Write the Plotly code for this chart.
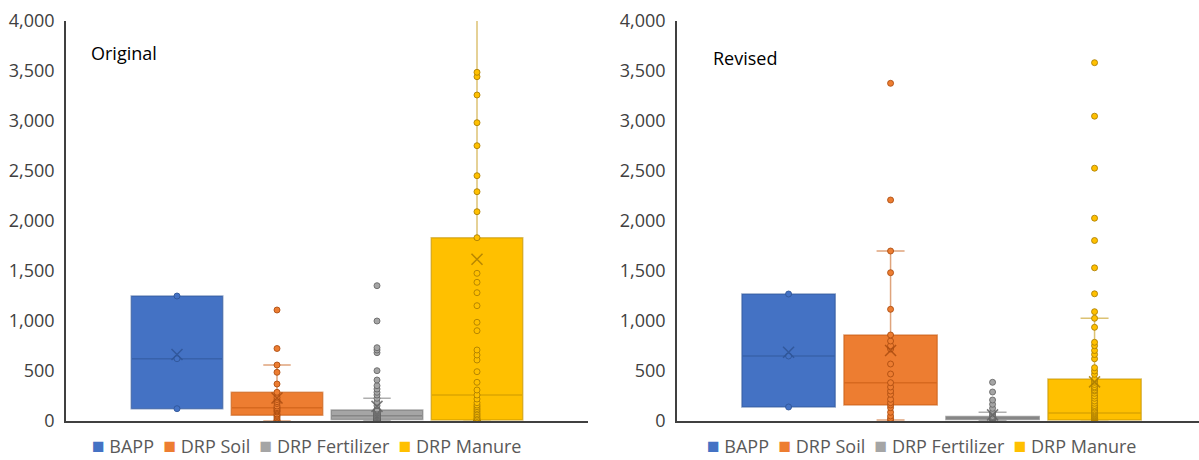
import numpy as np
import plotly.graph_objects as go
from plotly.subplots import make_subplots

# Series names (one box each, in drawing order)
series = ["BAPP", "DRP Soil", "DRP Fertilizer", "DRP Manure"]

# ---- Original estimates ----
bapp_orig = [123, 623, 1250]
soil_orig = [0, 5, 15, 30, 45, 57, 70, 90, 100, 110, 122, 133, 150, 175, 193,
             215, 237, 287, 370, 487, 560, 725, 1110]
fert_orig = [0, 0, 1, 2, 3, 4, 5, 6, 7, 8,
             9, 10, 11, 12, 13, 15, 17, 19, 21, 23,
             25, 27, 29, 31, 33, 35, 37, 40, 43, 46,
             49, 52, 55, 58, 61, 64, 67, 70, 73, 76,
             80, 84, 88, 92, 96, 100, 105, 110,
             120, 153, 187, 227, 260, 287, 320, 353, 410, 503, 683, 710, 733, 1000, 1353]
manure_orig = [0, 0, 0, 0, 0, 0, 0, 0, 0, 0, 0, 5, 10,
               20, 30, 45, 60, 75, 93, 110, 125, 143, 160, 183, 220,
               260,
               310, 387, 493, 610, 660, 710, 903, 987, 1153, 1283, 1387, 1477,
               1833,
               2093, 2293, 2453, 2753, 2983, 3260, 3443, 3487,
               4450, 8000, 14000, 19500]

# ---- Revised estimates ----
bapp_rev = [140, 650, 1270]
soil_rev = [10, 25, 50, 87, 133, 160, 183, 217, 267, 300, 340, 383,
            470, 570, 720, 753, 800, 860, 1117, 1483, 1700, 2210, 3377]
fert_rev = [0, 2, 4, 6, 8, 10, 12, 15, 17, 19, 21, 23, 25, 27, 29, 30,
            32, 34, 36, 38, 40, 42, 44, 46, 70, 88, 127, 167, 210, 290, 387]
manure_rev = [0, 0, 0, 0, 0, 0, 0, 0, 0, 0, 0, 0, 1, 2, 3, 4, 5, 7,
              10,
              12, 14, 16, 18, 20, 22, 25, 28, 31, 34, 37, 40, 44, 48, 53, 60, 66, 73,
              80,
              90, 100, 110, 127, 140, 155, 177, 200, 227, 250, 277, 300, 310, 330,
              343, 365, 387, 400,
              420,
              467, 500, 533, 622, 665, 705, 753, 787, 937, 1027, 1093, 1272, 1532,
              1805, 2028, 2528, 3048, 3583]

y_ticks = [0, 500, 1000, 1500, 2000, 2500, 3000, 3500, 4000]

panels = [
    ("Original", [bapp_orig, soil_orig, fert_orig, manure_orig]),
    ("Revised", [bapp_rev, soil_rev, fert_rev, manure_rev]),
]

fills = ["#4472C4", "#ED7D31", "#A5A5A5", "#FFC000"]
edges = ["rgba(47,85,151,0.55)", "rgba(197,90,17,0.55)",
         "rgba(110,110,110,0.55)", "rgba(191,144,0,0.55)"]
darks = ["rgba(47,85,151,0.85)", "rgba(170,75,15,0.85)",
         "rgba(100,100,100,0.85)", "rgba(170,125,0,0.85)"]

fig = make_subplots(rows=1, cols=2, horizontal_spacing=0.0)

for col, (title, groups) in enumerate(panels, start=1):
    for name, vals, fc, ec, dc in zip(series, groups, fills, edges, darks):
        fig.add_trace(go.Box(
            x=[name] * len(vals), y=vals, name=name,
            quartilemethod="exclusive",
            boxpoints="all", jitter=0, pointpos=0,
            width=0.915,
            fillcolor=fc,
            line=dict(color=ec, width=1.5),
            whiskerwidth=0.3,
            marker=dict(color=fc, size=6, line=dict(color=dc, width=1)),
            showlegend=False, hoverinfo="y",
        ), row=1, col=col)
        # mean marker
        fig.add_trace(go.Scatter(
            x=[name], y=[float(np.mean(vals))], mode="markers",
            marker=dict(symbol="x-thin-open", size=11,
                        line=dict(color=dc, width=1.5), color=dc),
            showlegend=False, hoverinfo="y",
        ), row=1, col=col)

W, H = 1199, 460
top, bottom = 21, 421
fig.update_layout(
    width=W, height=H,
    margin=dict(l=0, r=0, t=top, b=H - bottom),
    paper_bgcolor="white", plot_bgcolor="white",
    font=dict(family="Open Sans", size=18, color="#404040"),
    xaxis=dict(domain=[66 / W, 588 / W], range=[-1.11, 4.11]),
    xaxis2=dict(domain=[677 / W, 1.0], range=[-1.094, 4.024]),
)

axis_common = dict(showgrid=False, zeroline=False, showline=True,
                   linecolor="#404040", linewidth=1.5)
fig.update_xaxes(showticklabels=False, ticks="", automargin=False,
                 categoryorder="array", categoryarray=series, **axis_common)
fig.update_yaxes(range=[0, 4000], tickvals=y_ticks, tickformat=",d",
                 ticks="", ticklabelstandoff=6, automargin=False,
                 tickfont=dict(family="Open Sans", size=18, color="#404040"),
                 **axis_common)

# Panel titles
fig.add_annotation(text="Original", x=89 / W, xref="paper", xanchor="left",
                   y=3680, yref="y", yanchor="middle", showarrow=False,
                   font=dict(family="Open Sans", size=18, color="#000000"))
fig.add_annotation(text="Revised", x=711 / W, xref="paper", xanchor="left",
                   y=3627, yref="y2", yanchor="middle", showarrow=False,
                   font=dict(family="Open Sans", size=18, color="#000000"))

# Legends beneath each panel
legend_text = "\u00a0\u00a0".join(
    f'<span style="color:{c};font-size:21px">\u25a0</span>\u00a0{n}'
    for n, c in zip(series, fills)
)
for xc in (306 / W, 921 / W):
    fig.add_annotation(text=legend_text, x=xc, xref="paper", xanchor="center",
                       y=-0.06, yref="paper", yanchor="middle", showarrow=False,
                       font=dict(family="Open Sans", size=18, color="#595959"))

fig.write_html("out.html")
